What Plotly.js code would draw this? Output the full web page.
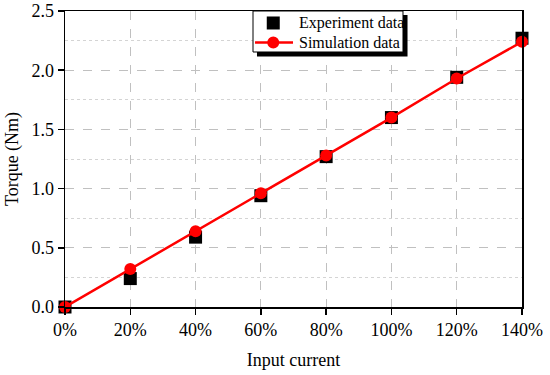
<!DOCTYPE html>
<html><head><meta charset="utf-8">
<script src="https://cdn.plot.ly/plotly-3.0.1.min.js"></script>
<style>body{margin:0;background:#fff}#c{width:550px;height:375px}</style>
</head><body><div id="c"></div>
<script>
const inputCurrent = [0, 20, 40, 60, 80, 100, 120, 140];
const experimentTorque = [0.0, 0.24, 0.59, 0.94, 1.27, 1.60, 1.94, 2.27];
const simulationTorque = [0.0, 0.32, 0.64, 0.96, 1.28, 1.60, 1.93, 2.24];
const xTickVals = [0, 20, 40, 60, 80, 100, 120, 140];
const xTickText = ['0%', '20%', '40%', '60%', '80%', '100%', '120%', '140%'];
const seriesNames = ['Experiment data', 'Simulation data'];

const font = '"Liberation Serif", "Times New Roman", serif';
const red = '#ff0000';
const traces = [
  {x: inputCurrent, y: experimentTorque, name: seriesNames[0], mode: 'markers', type: 'scatter',
   marker: {symbol: 'square', size: 13, color: '#000'}, cliponaxis: false},
  {x: inputCurrent, y: simulationTorque, name: seriesNames[1], mode: 'lines+markers', type: 'scatter',
   line: {color: red, width: 2.5}, marker: {symbol: 'circle', size: 12, color: red}, cliponaxis: false}
];

// legend drawn as framed box with shadow (paper coordinates)
const lg = {x0: 0.4114, x1: 0.7396, y0: 0.8615, y1: 1.0, row1: 0.9595, row2: 0.8936, sym: 0.4557, text: 0.5077};
const shapes = [
  {type: 'rect', xref: 'paper', yref: 'paper', x0: 0.4201, x1: 0.7495, y0: 0.8463, y1: 0.9865,
   fillcolor: '#000', line: {width: 0}, layer: 'above'},
  {type: 'rect', xref: 'paper', yref: 'paper', x0: lg.x0, x1: lg.x1, y0: lg.y0, y1: lg.y1,
   fillcolor: '#fff', line: {color: '#000', width: 1}, layer: 'above'},
  {type: 'line', xref: 'paper', yref: 'paper', x0: 0.4158, x1: 0.4989, y0: lg.row2, y1: lg.row2,
   line: {color: red, width: 2.5}, layer: 'above'},
  {type: 'circle', xref: 'paper', yref: 'paper', xsizemode: 'pixel', ysizemode: 'pixel',
   xanchor: lg.sym, yanchor: lg.row2, x0: -6, x1: 6, y0: -6, y1: 6,
   fillcolor: red, line: {width: 0}, layer: 'above'},
  {type: 'rect', xref: 'paper', yref: 'paper', xsizemode: 'pixel', ysizemode: 'pixel',
   xanchor: lg.sym, yanchor: lg.row1, x0: -6.5, x1: 6.5, y0: -6.5, y1: 6.5,
   fillcolor: '#000', line: {width: 0}, layer: 'above'}
];
const annotations = [
  {xref: 'paper', yref: 'paper', x: lg.text, y: lg.row1, xanchor: 'left', yanchor: 'middle', showarrow: false,
   text: seriesNames[0], font: {family: font, size: 16, color: '#000'}},
  {xref: 'paper', yref: 'paper', x: lg.text, y: lg.row2, xanchor: 'left', yanchor: 'middle', showarrow: false,
   text: seriesNames[1], font: {family: font, size: 16, color: '#000'}}
];

const layout = {
  width: 550, height: 375,
  margin: {l: 65, r: 28, t: 11, b: 68},
  paper_bgcolor: '#fff', plot_bgcolor: '#fff',
  font: {family: font, color: '#000', size: 18},
  showlegend: false,
  xaxis: {range: [0, 140], tickvals: xTickVals, ticktext: xTickText, showline: true, linecolor: '#000', linewidth: 1.5,
    mirror: true, ticks: 'outside', ticklen: 6, tickwidth: 1.5, tickcolor: '#000', zeroline: false,
    showgrid: true, gridcolor: '#c0c0c0', griddash: 'dash', gridwidth: 1,
    title: {text: 'Input current', font: {family: font, size: 18}, standoff: 14}, tickfont: {family: font, size: 18}},
  yaxis: {range: [0, 2.5], dtick: 0.5, tickformat: '.1f', showline: true, linecolor: '#000', linewidth: 1.5,
    mirror: true, ticks: 'outside', ticklen: 6, tickwidth: 1.5, tickcolor: '#000', zeroline: false,
    showgrid: true, gridcolor: '#c0c0c0', griddash: 'dash', gridwidth: 1,
    minor: {dtick: 0.25, showgrid: true, gridcolor: '#d4d4d4', griddash: 'dot', ticks: ''},
    title: {text: 'Torque (Nm)', font: {family: font, size: 18}, standoff: 8}, tickfont: {family: font, size: 18}},
  shapes: shapes,
  annotations: annotations
};
Plotly.newPlot('c', traces, layout, {displayModeBar: false, staticPlot: true});
</script></body></html>
